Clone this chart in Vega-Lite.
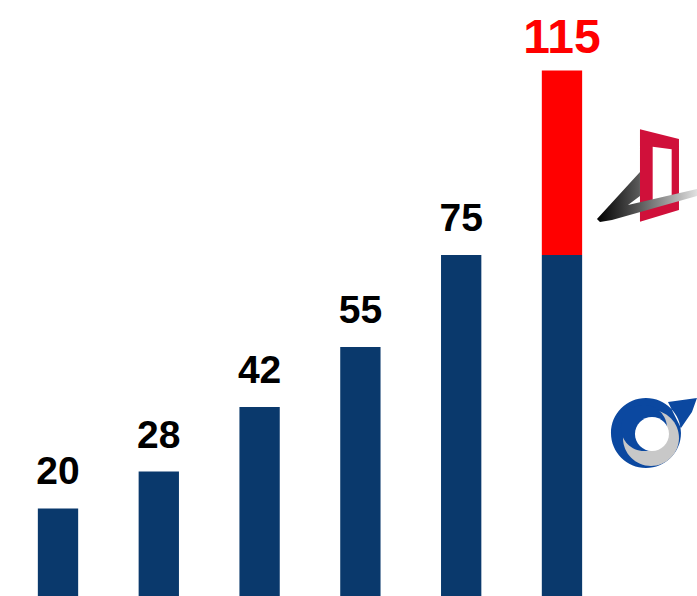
{
  "$schema": "https://vega.github.io/schema/vega-lite/v6.json",
  "width": 697,
  "height": 596,
  "autosize": {"type": "none"},
  "padding": 0,
  "background": "white",
  "config": {"view": {"stroke": null}},
  "data": {
    "values": [
      {"cat": "1", "segment": "a_base", "value": 20},
      {"cat": "2", "segment": "a_base", "value": 28},
      {"cat": "3", "segment": "a_base", "value": 42},
      {"cat": "4", "segment": "a_base", "value": 55},
      {"cat": "5", "segment": "a_base", "value": 75},
      {"cat": "6", "segment": "a_base", "value": 75},
      {"cat": "6", "segment": "b_growth", "value": 40}
    ]
  },
  "encoding": {
    "x": {
      "field": "cat", "type": "nominal", "axis": null,
      "scale": {"domain": ["1", "2", "3", "4", "5", "6", "7"], "paddingInner": 0.6, "paddingOuter": 0.2575, "align": 0.729}
    }
  },
  "layer": [
    {
      "mark": {"type": "bar", "clip": true},
      "encoding": {
        "y": {"field": "value", "type": "quantitative", "stack": "zero", "axis": null,
              "scale": {"domain": [1.0, 130.3], "nice": false, "zero": false}},
        "color": {"field": "segment", "type": "nominal", "legend": null,
                  "scale": {"domain": ["a_base", "b_growth"], "range": ["#0a396c", "#ff0000"]}},
        "order": {"field": "segment", "sort": "ascending"}
      }
    },
    {
      "transform": [
        {"aggregate": [{"op": "sum", "field": "value", "as": "total"}], "groupby": ["cat"]},
        {"filter": "datum.cat !== '6'"}
      ],
      "mark": {"type": "text", "font": "Liberation Sans", "fontWeight": "bold", "fontSize": 39, "baseline": "alphabetic", "align": "center", "dy": -24, "color": "#000000"},
      "encoding": {
        "y": {"field": "total", "type": "quantitative"},
        "text": {"field": "total", "type": "quantitative"}
      }
    },
    {
      "transform": [
        {"aggregate": [{"op": "sum", "field": "value", "as": "total"}], "groupby": ["cat"]},
        {"filter": "datum.cat === '6'"}
      ],
      "mark": {"type": "text", "font": "Liberation Sans", "fontWeight": "bold", "fontSize": 48, "baseline": "alphabetic", "align": "center", "dy": -18, "color": "#ff0000"},
      "encoding": {
        "y": {"field": "total", "type": "quantitative"},
        "text": {"field": "total", "type": "quantitative"}
      }
    },
    {
      "data": {"values": [{"logo": "top"}]},
      "mark": {"type": "point", "filled": true, "opacity": 1, "size": 10000, "strokeWidth": 0, "fill": "#d0103a",
               "shape": "M-0.456,-0.944L0.324,-0.75L0.324,0.67L-0.456,0.904Z M-0.202,-0.596L-0.202,0.53L0.178,0.43L0.178,-0.544Z"},
      "encoding": {"x": {"datum": "7"}, "y": {"datum": 92}}
    },
    {
      "data": {"values": [{"logo": "top"}]},
      "mark": {"type": "point", "filled": true, "opacity": 1, "size": 10000, "strokeWidth": 0,
               "fill": {"gradient": "linear", "x1": 0, "y1": 0, "x2": 1, "y2": 0,
                        "stops": [{"offset": 0, "color": "#000000"}, {"offset": 0.4, "color": "#555555"}, {"offset": 1, "color": "#e0e0e0"}]},
               "shape": "M-1.316,0.85L-0.456,-0.09L-0.456,0.39L-0.696,0.57L0.684,0.25L0.684,0.39L-1.016,0.87L-1.256,0.91Z"},
      "encoding": {"x": {"datum": "7"}, "y": {"datum": 92}}
    },
    {
      "data": {"values": [{"logo": "bottom"}]},
      "mark": {"type": "point", "filled": true, "opacity": 1, "size": 10000, "strokeWidth": 0, "fill": "#0b48a0",
               "shape": "M-1.036,0.06A0.7,0.7,0,1,0,0.364,0.06A0.7,0.7,0,1,0,-1.036,0.06Z M0.104,-0.56L0.684,-0.64L0.584,-0.36L0.364,-0.04Z"},
      "encoding": {"x": {"datum": "7"}, "y": {"datum": 37}}
    },
    {
      "data": {"values": [{"logo": "bottom"}]},
      "mark": {"type": "point", "filled": true, "opacity": 1, "size": 10000, "strokeWidth": 0, "fill": "#c8c8c8",
               "shape": "M-0.796,0.16A0.56,0.56,0,1,0,0.324,0.16A0.56,0.56,0,1,0,-0.796,0.16Z"},
      "encoding": {"x": {"datum": "7"}, "y": {"datum": 37}}
    },
    {
      "data": {"values": [{"logo": "bottom"}]},
      "mark": {"type": "point", "filled": true, "opacity": 1, "size": 10000, "strokeWidth": 0, "fill": "#0b48a0",
               "shape": "M-0.836,-0.04A0.46,0.46,0,1,0,0.084,-0.04A0.46,0.46,0,1,0,-0.836,-0.04Z"},
      "encoding": {"x": {"datum": "7"}, "y": {"datum": 37}}
    },
    {
      "data": {"values": [{"logo": "bottom"}]},
      "mark": {"type": "point", "filled": true, "opacity": 1, "size": 10000, "strokeWidth": 0, "fill": "#ffffff",
               "shape": "M-0.556,0.08A0.34,0.34,0,1,0,0.124,0.08A0.34,0.34,0,1,0,-0.556,0.08Z"},
      "encoding": {"x": {"datum": "7"}, "y": {"datum": 37}}
    }
  ]
}
